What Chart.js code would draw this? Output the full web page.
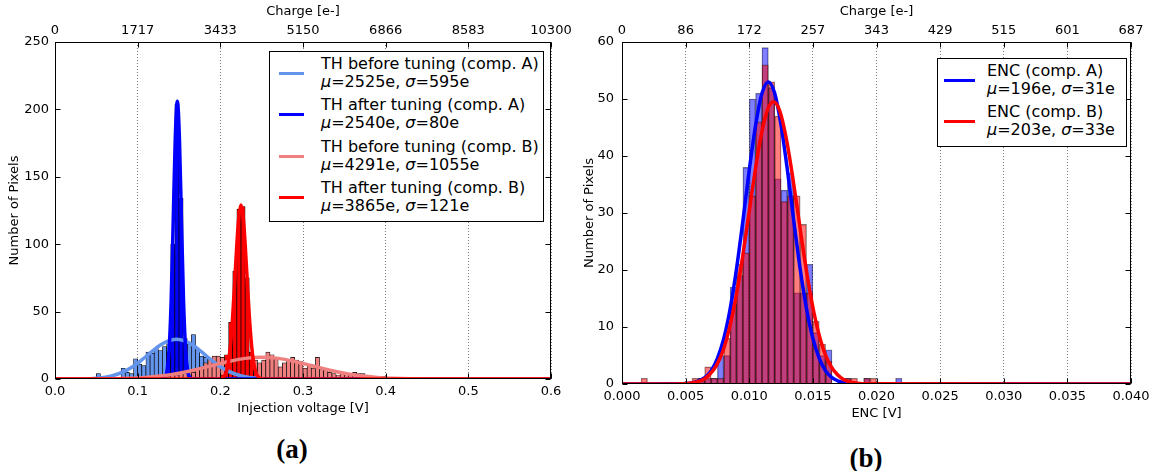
<!DOCTYPE html>
<html lang="ja">
<head>
<meta charset="utf-8">
<title>TH / ENC</title>
<script src="https://cdn.jsdelivr.net/npm/chart.js@4.4.1/dist/chart.umd.min.js"></script>
<style>
  body { margin: 0; background: #fff; }
  #wrap { position: relative; width: 1156px; height: 471px; overflow: hidden; font-family: 'DejaVu Sans', sans-serif; }
  canvas { position: absolute; top: 0; }
  #chartA { left: 0; }
  #chartB { left: 578px; }
  .legend { position: absolute; box-sizing: border-box; border: 1px solid #000; background: #fff; font-size: 16px; line-height: 18px; padding-top: 3px; color: #000; }
  .legend .item { position: relative; height: 36px; margin-bottom: 5.3px; }
  .legend .line { position: absolute; top: 17px; height: 3px; }
  .legend .text { position: absolute; top: 0; white-space: nowrap; }
  .panel { position: absolute; font: bold 27px 'Liberation Serif', serif; transform: translate(-50%, -50%); }
</style>
</head>
<body>
<div id="wrap">
  <canvas id="chartA" width="578" height="430"></canvas>
  <canvas id="chartB" width="578" height="430"></canvas>
  <div id="legendA" class="legend" style="left:269px;top:51px;width:275px;height:171px"></div>
  <div id="legendB" class="legend" style="left:937px;top:58px;width:190px;height:89px"></div>
  <div class="panel" style="left:292px;top:449px">(a)</div>
  <div class="panel" style="left:866px;top:458px">(b)</div>
</div>
<script>
// ===== (a) しきい値分布 =====
const voltTicks = [0, 0.1, 0.2, 0.3, 0.4, 0.5, 0.6];
const chargeTicksA = ['0', '1717', '3433', '5150', '6866', '8583', '10300'];
const countTicksA = [0, 50, 100, 150, 200, 250];

// ヒストグラム (ビン中心 [V] と画素数)
const beforeABins = [0.0525, 0.0825, 0.0875, 0.0925, 0.0975, 0.1025, 0.1075, 0.1125, 0.1175, 0.1225,
  0.1275, 0.1325, 0.1375, 0.1425, 0.1475, 0.1525, 0.1575, 0.1625, 0.1675, 0.1725,
  0.1775, 0.1825, 0.1875, 0.1925, 0.1975, 0.2025, 0.2075, 0.2125, 0.2175];
const beforeACounts = [4, 8, 5, 4, 15, 11, 10, 20, 19, 23,
  21, 24, 26, 28, 27, 29, 27, 26, 33, 22,
  17, 16, 14, 10, 8, 8, 4, 2, 1];

const afterABins = [0.1325, 0.1375, 0.1425, 0.1475, 0.1525, 0.1575, 0.1625];
const afterACounts = [3, 20, 100, 204, 134, 30, 5];

const beforeBBins = [0.1075, 0.1125, 0.1175, 0.1225, 0.1275, 0.1325, 0.1375, 0.1425, 0.1475, 0.1525,
  0.1575, 0.1625, 0.1675, 0.1725, 0.1775, 0.1825, 0.1875, 0.1925, 0.1975, 0.2025,
  0.2075, 0.2125, 0.2175, 0.2225, 0.2275, 0.2325, 0.2375, 0.2425, 0.2475, 0.2525,
  0.2575, 0.2625, 0.2675, 0.2725, 0.2775, 0.2825, 0.2875, 0.2925, 0.2975, 0.3025,
  0.3075, 0.3125, 0.3175, 0.3225, 0.3275, 0.3325, 0.3375, 0.3425, 0.3475, 0.3525,
  0.3575, 0.3625, 0.3675, 0.3725, 0.3775, 0.3825, 0.3875, 0.3925, 0.3975, 0.4025,
  0.4075, 0.4125];
const beforeBCounts = [1, 0, 2, 1, 2, 3, 2, 4, 3, 5,
  4, 6, 5, 8, 9, 12, 15, 17, 17, 16,
  10, 12, 14, 13, 15, 17, 15, 14, 12, 14,
  20, 18, 15, 9, 12, 14, 16, 14, 13, 8,
  10, 8, 16, 7, 8, 5, 4, 3, 5, 4,
  3, 5, 4, 4, 2, 1, 1, 1, 2, 1,
  0, 1];

const afterBBins = [0.2025, 0.2075, 0.2125, 0.2175, 0.2225, 0.2275, 0.2325, 0.2375, 0.2425];
const afterBCounts = [3, 18, 42, 80, 126, 128, 75, 20, 4];

// フィット曲線 (図から読んだ点)
const fitBeforeAX = [0, 0.007, 0.017, 0.027, 0.037, 0.047, 0.057, 0.067, 0.077, 0.087, 0.097, 0.107, 0.117, 0.127, 0.137,
  0.147, 0.157, 0.167, 0.177, 0.187, 0.197, 0.207, 0.217, 0.227, 0.237, 0.247, 0.257, 0.267, 0.277, 0.287, 0.6];
const fitBeforeAY = [0, 0.01, 0.03, 0.07, 0.2, 0.46, 1.0, 2.1, 3.9, 6.6, 10.4, 15.2, 20.3, 25.0, 28.3,
  29.5, 28.3, 25.0, 20.3, 15.2, 10.4, 6.6, 3.9, 2.1, 1.0, 0.46, 0.2, 0.07, 0.03, 0.01, 0];

const fitAfterAX = [0, 0.128, 0.1305, 0.133, 0.1355, 0.138, 0.1405, 0.143, 0.1455, 0.148,
  0.1505, 0.153, 0.1555, 0.158, 0.1605, 0.163, 0.1655, 0.168, 0.6];
const fitAfterAY = [0, 0.02, 0.2, 1.3, 6.0, 21.4, 57.7, 117, 178.8, 206,
  178.8, 117, 57.7, 21.4, 6.0, 1.3, 0.2, 0.02, 0];

const fitBeforeBX = [0, 0.03, 0.05, 0.07, 0.09, 0.11, 0.13, 0.15, 0.17, 0.19, 0.21, 0.23, 0.25,
  0.27, 0.29, 0.31, 0.33, 0.35, 0.37, 0.39, 0.41, 0.43, 0.45, 0.47, 0.49, 0.6];
const fitBeforeBY = [0, 0.03, 0.08, 0.22, 0.55, 1.2, 2.4, 4.3, 6.9, 10.0, 13.0, 15.3, 16.1,
  15.3, 13.0, 10.0, 6.9, 4.3, 2.4, 1.2, 0.55, 0.22, 0.08, 0.03, 0.01, 0];

const fitAfterBX = [0, 0.1975, 0.2, 0.2025, 0.205, 0.2075, 0.21, 0.2125, 0.215, 0.2175, 0.22, 0.2225, 0.225,
  0.2275, 0.23, 0.2325, 0.235, 0.2375, 0.24, 0.2425, 0.245, 0.2475, 0.25, 0.2525, 0.6];
const fitAfterBY = [0, 0.06, 0.24, 0.8, 2.3, 5.9, 13.4, 26.8, 47.2, 73.3, 100.3, 121.1, 129,
  121.1, 100.3, 73.3, 47.2, 26.8, 13.4, 5.9, 2.3, 0.8, 0.24, 0.06, 0];

const legendNamesA = ['TH before tuning (comp. A)', 'TH after tuning (comp. A)', 'TH before tuning (comp. B)', 'TH after tuning (comp. B)'];
const legendMuA = [2525, 2540, 4291, 3865];
const legendSigmaA = [595, 80, 1055, 121];

// ===== (b) ENC 分布 =====
const encTicks = [0, 0.005, 0.01, 0.015, 0.02, 0.025, 0.03, 0.035, 0.04];
const chargeTicksB = ['0', '86', '172', '257', '343', '429', '515', '601', '687'];
const countTicksB = [0, 10, 20, 30, 40, 50, 60];

const encBins = [0.00175, 0.00575, 0.00625, 0.00675, 0.00725, 0.00775, 0.00825, 0.00875, 0.00925, 0.00975,
  0.01025, 0.01075, 0.01125, 0.01175, 0.01225, 0.01275, 0.01325, 0.01375, 0.01425, 0.01475,
  0.01525, 0.01575, 0.01625, 0.01775, 0.01825, 0.01925, 0.01975, 0.02175];
const encACounts = [0, 0, 1, 1, 1, 5, 5, 17, 19, 38,
  50, 51, 59, 52, 36, 34, 37, 16, 16, 21,
  9, 5, 6, 1, 0, 1, 0, 1];
const encBCounts = [1, 1, 1, 3, 1, 1, 8, 14, 21, 23,
  33, 46, 56, 53, 47, 32, 33, 33, 28, 16,
  11, 7, 4, 1, 1, 1, 1, 0];

const encFitAX = [0, 0.0045, 0.005, 0.0055, 0.006, 0.0065, 0.007, 0.0075, 0.008, 0.0085, 0.009, 0.0095, 0.01, 0.0105, 0.011,
  0.0115, 0.012, 0.0125, 0.013, 0.0135, 0.014, 0.0145, 0.015, 0.0155, 0.016, 0.0165, 0.017, 0.0175, 0.018, 0.0185, 0.04];
const encFitAY = [0, 0.03, 0.08, 0.2, 0.5, 1.1, 2.3, 4.5, 8.0, 13.2, 20.2, 28.6, 37.5, 45.4, 51,
  53, 51, 45.4, 37.5, 28.6, 20.2, 13.2, 8.0, 4.5, 2.3, 1.1, 0.5, 0.2, 0.08, 0.03, 0];

const encFitBX = [0, 0.0049, 0.0054, 0.0059, 0.0064, 0.0069, 0.0074, 0.0079, 0.0084, 0.0089, 0.0094, 0.0099, 0.0104, 0.0109, 0.0114,
  0.0119, 0.0124, 0.0129, 0.0134, 0.0139, 0.0144, 0.0149, 0.0154, 0.0159, 0.0164, 0.0169, 0.0174, 0.0179, 0.0184, 0.0189, 0.04];
const encFitBY = [0, 0.06, 0.16, 0.37, 0.8, 1.7, 3.2, 5.6, 9.4, 14.6, 21.2, 28.8, 36.5, 43.2, 47.9,
  49.5, 47.9, 43.2, 36.5, 28.8, 21.2, 14.6, 9.4, 5.6, 3.2, 1.7, 0.8, 0.37, 0.16, 0.06, 0];

const legendNamesB = ['ENC (comp. A)', 'ENC (comp. B)'];
const legendMuB = [196, 203];
const legendSigmaB = [31, 33];

// ===== 描画 =====
Chart.defaults.font.family = "'DejaVu Sans', sans-serif";
Chart.defaults.color = '#000';
const tickFont = { family: "'DejaVu Sans', sans-serif", size: 13 };

// ヒストグラムのデータセット
function histSet(bins, counts, fill, edge, order) {
  return {
    type: 'bar',
    data: bins.map((b, i) => ({ x: b, y: counts[i] })),
    backgroundColor: fill,
    borderColor: edge,
    borderWidth: 0.7,
    borderSkipped: 'start',
    grouped: false,
    barPercentage: 1,
    categoryPercentage: 1,
    order: order,
  };
}

// フィット曲線のデータセット
function fitSet(xs, ys, color, order) {
  return {
    type: 'line',
    data: xs.map((x, i) => ({ x: x, y: ys[i] })),
    borderColor: color,
    borderWidth: 3.5,
    pointRadius: 0,
    fill: false,
    cubicInterpolationMode: 'monotone',
    order: order,
  };
}

// 枠と内向きの目盛り
const framePlugin = {
  id: 'frame',
  afterDraw(chart) {
    const { ctx, chartArea: a } = chart;
    const xs = chart.scales.x;
    const ys = chart.scales.y;
    const L = Math.round(a.left) + 0.5;
    const R = Math.round(a.right) - 0.5;
    const T = Math.round(a.top) + 0.5;
    const B = Math.round(a.bottom) - 0.5;
    ctx.save();
    ctx.strokeStyle = '#000';
    ctx.lineWidth = 1;
    ctx.beginPath();
    xs.ticks.forEach(t => {
      const px = Math.round(xs.getPixelForValue(t.value)) + 0.5;
      ctx.moveTo(px, B); ctx.lineTo(px, B - 5);
      ctx.moveTo(px, T); ctx.lineTo(px, T + 5);
    });
    ys.ticks.forEach(t => {
      const py = Math.round(ys.getPixelForValue(t.value)) + 0.5;
      ctx.moveTo(L, py); ctx.lineTo(L + 5, py);
      ctx.moveTo(R, py); ctx.lineTo(R - 5, py);
    });
    ctx.stroke();
    ctx.strokeRect(L, T, R - L, B - T);
    ctx.restore();
  }
};

function buildOptions(cfg) {
  const xMin = cfg.xTicks[0];
  const xMax = cfg.xTicks[cfg.xTicks.length - 1];
  return {
    responsive: false,
    animation: false,
    devicePixelRatio: 1,
    layout: { padding: { left: 0, right: cfg.padRight, top: 0, bottom: 0 } },
    plugins: { legend: { display: false }, tooltip: { enabled: false } },
    scales: {
      x: {
        type: 'linear', position: 'bottom', min: xMin, max: xMax, offset: false,
        afterBuildTicks: s => { s.ticks = cfg.xTicks.map(v => ({ value: v })); },
        afterFit: s => { s.height = cfg.bottomH; },
        ticks: { callback: v => v.toFixed(cfg.digits), padding: 5, maxRotation: 0, autoSkip: false, font: tickFont },
        grid: { display: true, drawOnChartArea: true, drawTicks: false, color: '#7a7a7a', lineWidth: 1, offset: false },
        border: { display: false, dash: [1, 2] },
        title: { display: true, text: cfg.xTitle, font: tickFont, padding: { top: 0, bottom: cfg.xTitlePad } },
      },
      x2: {
        type: 'linear', position: 'top', min: xMin, max: xMax, offset: false,
        afterBuildTicks: s => { s.ticks = cfg.xTicks.map(v => ({ value: v })); },
        afterFit: s => { s.height = 42; },
        ticks: { callback: (v, i) => cfg.topLabels[i], padding: 4, maxRotation: 0, autoSkip: false, font: tickFont },
        grid: { display: false, drawTicks: false },
        border: { display: false },
        title: { display: true, text: 'Charge [e-]', font: tickFont, padding: { top: 4, bottom: 0 } },
      },
      y: {
        type: 'linear', position: 'left', min: 0, max: cfg.yTicks[cfg.yTicks.length - 1],
        afterBuildTicks: s => { s.ticks = cfg.yTicks.map(v => ({ value: v })); },
        afterFit: s => { s.width = cfg.leftW; },
        ticks: { callback: v => String(v), padding: cfg.yPad, autoSkip: false, font: tickFont },
        grid: { display: false, drawTicks: false },
        border: { display: false },
        title: { display: true, text: 'Number of Pixels', font: tickFont, padding: { top: cfg.yTitlePad, bottom: 0 } },
      },
    },
  };
}

new Chart(document.getElementById('chartA'), {
  type: 'bar',
  data: {
    datasets: [
      fitSet(fitAfterBX, fitAfterBY, '#ff0000', 1),
      fitSet(fitBeforeBX, fitBeforeBY, '#f08080', 2),
      fitSet(fitAfterAX, fitAfterAY, '#0000ff', 3),
      fitSet(fitBeforeAX, fitBeforeAY, '#6495ed', 4),
      histSet(afterBBins, afterBCounts, '#ff0000', '#000', 5),
      histSet(beforeBBins, beforeBCounts, '#f08080', '#000', 6),
      histSet(afterABins, afterACounts, '#0000ff', '#000', 7),
      histSet(beforeABins, beforeACounts, '#6495ed', '#000', 8),
    ],
  },
  options: buildOptions({
    xTicks: voltTicks, topLabels: chargeTicksA, yTicks: countTicksA, digits: 1,
    xTitle: 'Injection voltage [V]', padRight: 27, bottomH: 51, leftW: 55,
    xTitlePad: 14, yPad: 6, yTitlePad: 7,
  }),
  plugins: [framePlugin],
});

new Chart(document.getElementById('chartB'), {
  type: 'bar',
  data: {
    datasets: [
      fitSet(encFitBX, encFitBY, '#ff0000', 1),
      fitSet(encFitAX, encFitAY, '#0000ff', 2),
      histSet(encBins, encBCounts, 'rgba(255,0,0,0.5)', 'rgba(0,0,0,0.5)', 3),
      histSet(encBins, encACounts, 'rgba(0,0,255,0.5)', 'rgba(0,0,0,0.5)', 4),
    ],
  },
  options: buildOptions({
    xTicks: encTicks, topLabels: chargeTicksB, yTicks: countTicksB, digits: 3,
    xTitle: 'ENC [V]', padRight: 25, bottomH: 46, leftW: 44,
    xTitlePad: 9, yPad: 8, yTitlePad: 4,
  }),
  plugins: [framePlugin],
});

// 凡例 (HTML)
function buildLegend(id, names, mus, sigmas, colors, lineLeft, lineWidth, textLeft) {
  const box = document.getElementById(id);
  names.forEach((name, i) => {
    const item = document.createElement('div');
    item.className = 'item';
    item.innerHTML =
      `<div class="line" style="left:${lineLeft}px;width:${lineWidth}px;background:${colors[i]}"></div>` +
      `<div class="text" style="left:${textLeft}px">${name}<br><i>μ</i>=${mus[i]}e, <i>σ</i>=${sigmas[i]}e</div>`;
    box.appendChild(item);
  });
}
buildLegend('legendA', legendNamesA, legendMuA, legendSigmaA, ['#6495ed', '#0000ff', '#f08080', '#ff0000'], 9, 25, 51);
buildLegend('legendB', legendNamesB, legendMuB, legendSigmaB, ['#0000ff', '#ff0000'], 6, 31, 49);
</script>
</body>
</html>
